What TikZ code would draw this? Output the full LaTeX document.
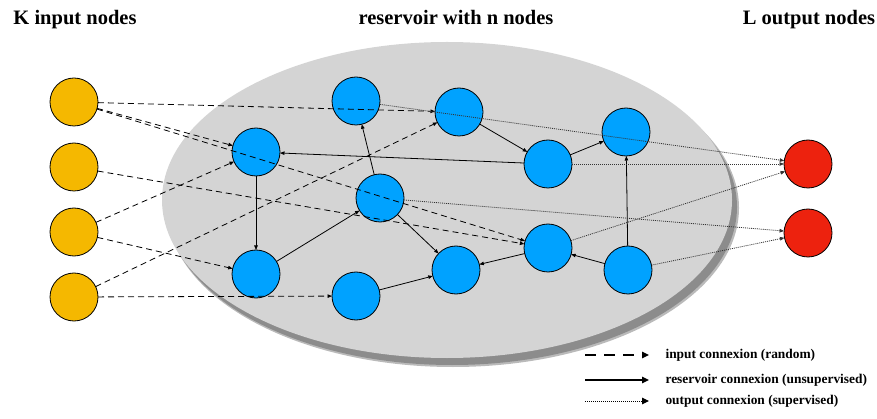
\documentclass[tikz,border=0pt]{standalone}
\usepackage{fontspec}
\setmainfont{Liberation Serif}
\usetikzlibrary{arrows.meta}
\definecolor{inyellow}{RGB}{245,184,0}
\definecolor{resblue}{RGB}{0,162,255}
\definecolor{outred}{RGB}{237,34,14}
\definecolor{resgray}{RGB}{212,212,212}
\definecolor{shadowgray}{RGB}{140,140,140}
\tikzset{
  neuron/.style={circle,draw=black,line width=0.8pt,minimum size=48pt,inner sep=0pt,outer sep=0pt},
  innode/.style={neuron,fill=inyellow},
  resnode/.style={neuron,fill=resblue},
  outnode/.style={neuron,fill=outred},
  tip/.style={-{Triangle[length=4.5pt,width=3.5pt]}},
  inlink/.style={tip,dash pattern=on 6pt off 4pt,line width=0.8pt},
  reslink/.style={tip,line width=0.8pt},
  outlink/.style={tip,dash pattern=on 1pt off 1pt,line width=0.8pt,black!80},
  legtip/.style={-{Triangle[length=7pt,width=6.5pt]},line width=1.3pt},
  headline/.style={font=\fontsize{20.5}{24}\selectfont\bfseries,anchor=base},
  legtext/.style={font=\fontsize{13.4}{16}\selectfont\bfseries,anchor=base west},
}
\begin{document}
\begin{tikzpicture}[x=1pt,y=-1pt]
    \useasboundingbox (0,0) rectangle (877,419);
    % Reservoir
    \fill[shadowgray!60] (453,208) ellipse [x radius=286pt,y radius=159pt];
    \fill[shadowgray] (452,207) ellipse [x radius=285pt,y radius=158pt];
    \fill[resgray] (447,200) ellipse [x radius=285pt,y radius=158pt];

    % Titles
    \node[headline] (ktitle) at (75,25) {K input nodes};
    \node[headline] (rtitle) at (456,25) {reservoir with n nodes};
    \node[headline] (ltitle) at (809,25) {L output nodes};

    % Input nodes
    \foreach \i/\y in {1/102, 2/167, 3/232, 4/297} {
        \node[innode] (in\i) at (74,\y) {};
    }

    % Reservoir nodes
    \foreach \i/\x/\y in {
        1/356/101,
        2/459/112,
        3/548/164,
        4/380/198,
        5/548/248,
        6/456/270,
        7/356/296,
        8/256/152,
        9/256/274,
        10/626/132,
        11/628/270
    } {
        \node[resnode] (r\i) at (\x,\y) {};
    }

    % Output nodes
    \node[outnode] (out1) at (808,164) {};
    \node[outnode] (out2) at (808,233) {};

    % Input connexions
    \foreach \a/\b in {in1/r2, in1/r8, in1/r5, in2/r5, in3/r8, in3/r9, in4/r2, in4/r7} {
        \draw[inlink] (\a) -- (\b);
    }

    % Reservoir connexions
    \foreach \a/\b in {r8/r9, r9/r4, r4/r1, r4/r6, r2/r3, r3/r10, r3/r8, r7/r6, r5/r6, r11/r5, r11/r10} {
        \draw[reslink] (\a) -- (\b);
    }

    % Output connexions
    \foreach \a/\b in {r1/out1, r3/out1, r5/out1, r4/out2, r11/out2} {
        \draw[outlink] (\a) -- (\b);
    }

    % Legend
    \coordinate (lina) at (585,355);
    \coordinate (linb) at (649,355);
    \coordinate (resa) at (585,380);
    \coordinate (resb) at (649,380);
    \coordinate (outa) at (585,401);
    \coordinate (outb) at (649,401);
    \draw[legtip,dash pattern=on 11pt off 8pt] (lina) -- (linb);
    \draw[legtip] (resa) -- (resb);
    \draw[legtip,dash pattern=on 1pt off 1pt,line width=1pt] (outa) -- (outb);
    \node[legtext] (linl) at (662,358.5) {input connexion (random)};
    \node[legtext] (resl) at (662,383.5) {reservoir connexion (unsupervised)};
    \node[legtext] (outl) at (662,404.5) {output connexion (supervised)};
\end{tikzpicture}
\end{document}
